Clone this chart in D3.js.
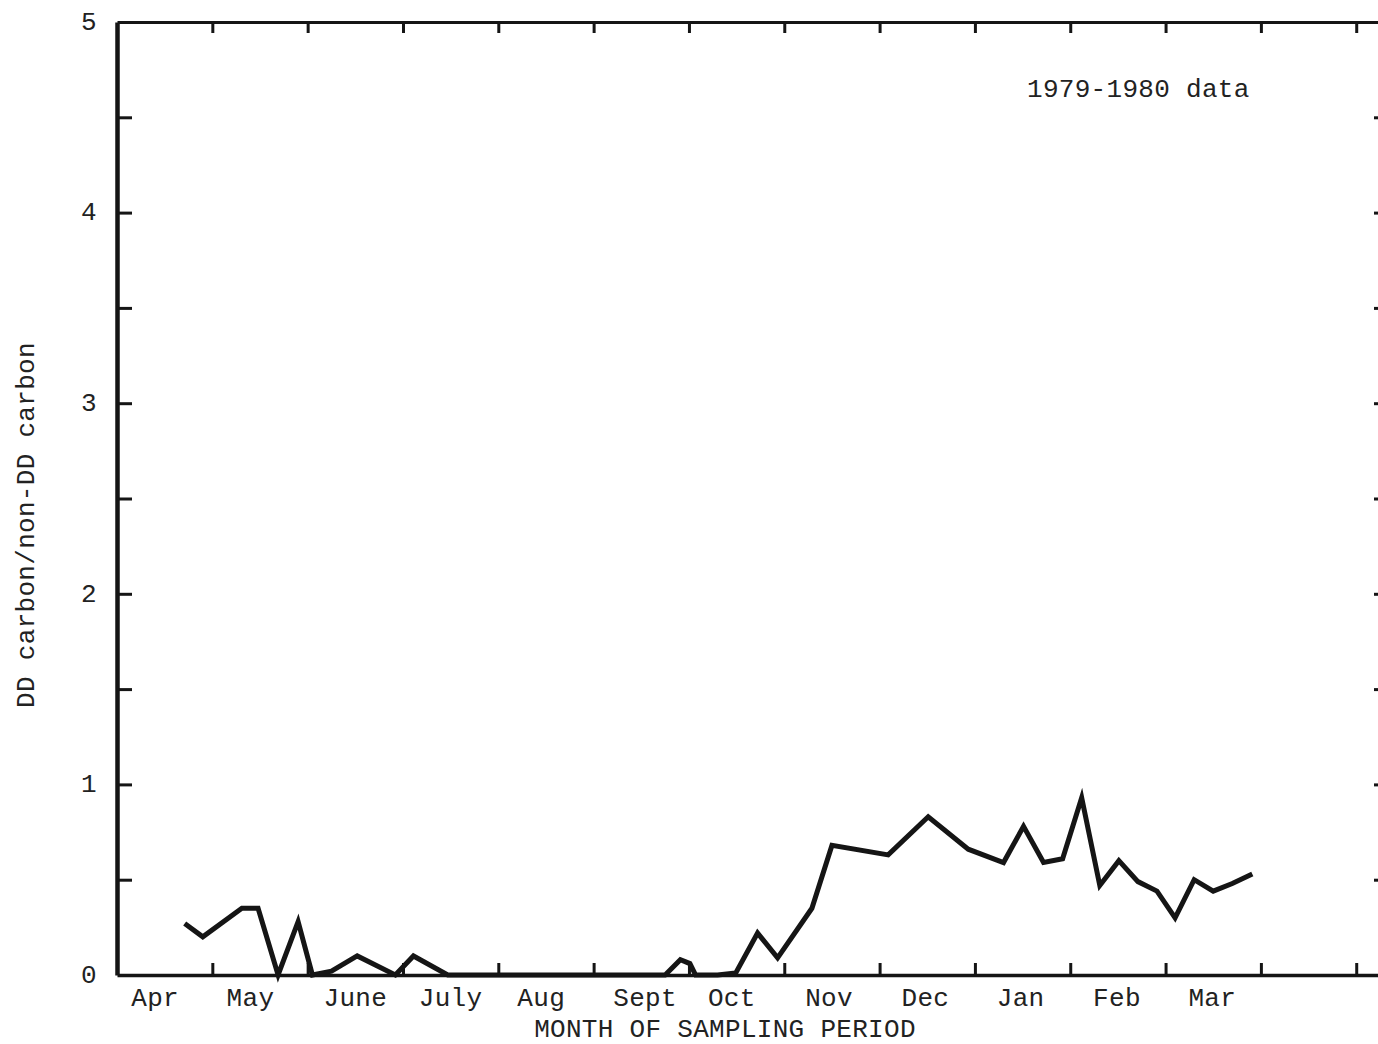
<!DOCTYPE html>
<html>
<head>
<meta charset="utf-8">
<script src="https://cdn.jsdelivr.net/npm/d3@7"></script>
<style>
  html, body { margin: 0; padding: 0; background: #fff; }
  svg { display: block; }
  text { font-family: "Liberation Mono", "DejaVu Sans Mono", monospace; fill: #222; letter-spacing: 0.3px; }
</style>
</head>
<body>
<svg id="chart" width="1378" height="1044"></svg>
<script>
// Sampling time, in months since the start of April 1979
const sampleMonth = [0.71, 0.90, 1.31, 1.48, 1.69, 1.90, 2.05, 2.25, 2.52, 2.92, 3.11, 3.47,
  4.00, 4.50, 5.00, 5.50, 5.75, 5.91, 6.01, 6.07, 6.30, 6.49, 6.72, 6.93, 7.29, 7.50,
  8.09, 8.51, 8.93, 9.30, 9.51, 9.72, 9.92, 10.12, 10.31, 10.51, 10.71, 10.91, 11.10,
  11.30, 11.50, 11.70, 11.91];
// DD carbon / non-DD carbon ratio at each sample
const ratio = [0.27, 0.20, 0.35, 0.35, 0.00, 0.28, 0.00, 0.02, 0.10, 0.00, 0.10, 0.00,
  0.00, 0.00, 0.00, 0.00, 0.00, 0.08, 0.06, 0.00, 0.00, 0.01, 0.22, 0.09, 0.35, 0.68,
  0.63, 0.83, 0.66, 0.59, 0.78, 0.59, 0.61, 0.93, 0.47, 0.60, 0.49, 0.44, 0.30,
  0.50, 0.44, 0.48, 0.53];

const monthNames = ["Apr", "May", "June", "July", "Aug", "Sept", "Oct", "Nov", "Dec", "Jan", "Feb", "Mar"];
const monthLabelAt = [0.40, 1.40, 2.50, 3.50, 4.45, 5.54, 6.45, 7.47, 8.48, 9.48, 10.49, 11.49];
const monthTicks = [1, 2, 3, 4, 5, 6, 7, 8, 9, 10, 11, 12, 13];
const yTicks = [0, 0.5, 1, 1.5, 2, 2.5, 3, 3.5, 4, 4.5, 5];
const yLabelled = [0, 1, 2, 3, 4, 5];

const svg = d3.select("#chart");
const ink = "#151515";
const fontSize = 26;

const plotL = 117, plotR = 1381, plotT = 22, plotB = 975;
const x = d3.scaleLinear().domain([0, 13.26]).range([plotL, plotR]);
const y = d3.scaleLinear().domain([0, 5]).range([plotB, plotT]);

// frame axes: ticks point into the plot on every side
const styleAxis = (g, w) => {
  g.select(".domain").attr("stroke", ink).attr("stroke-width", w);
  g.selectAll(".tick line").attr("stroke", ink).attr("stroke-width", 3);
  g.selectAll(".tick text").remove();
};

svg.append("g")
  .attr("transform", `translate(0,${plotB})`)
  .call(d3.axisBottom(x).tickValues(monthTicks).tickSizeInner(-12).tickSizeOuter(0))
  .call(g => styleAxis(g, 3.5));

svg.append("g")
  .attr("transform", `translate(0,${plotT})`)
  .call(d3.axisTop(x).tickValues(monthTicks).tickSizeInner(-11).tickSizeOuter(0))
  .call(g => styleAxis(g, 3));

svg.append("g")
  .attr("transform", `translate(${plotL},0)`)
  .call(d3.axisLeft(y).tickValues(yTicks.filter(v => v > 0 && v < 5)).tickSizeInner(-15).tickSizeOuter(0))
  .call(g => styleAxis(g, 4.5));

svg.append("g")
  .attr("transform", `translate(${plotR},0)`)
  .call(d3.axisRight(y).tickValues(yTicks.filter(v => v > 0 && v < 5)).tickSizeInner(-7).tickSizeOuter(0))
  .call(g => styleAxis(g, 3));

// y tick labels
svg.append("g").selectAll("text")
  .data(yLabelled)
  .join("text")
  .attr("x", 97)
  .attr("y", d => y(d))
  .attr("dy", "0.3em")
  .attr("text-anchor", "end")
  .attr("font-size", fontSize)
  .text(d => d);

// month labels
svg.append("g").selectAll("text")
  .data(monthNames)
  .join("text")
  .attr("x", (d, i) => x(monthLabelAt[i]))
  .attr("y", 1006)
  .attr("text-anchor", "middle")
  .attr("font-size", fontSize)
  .text(d => d);

svg.append("text")
  .attr("x", 725).attr("y", 1037)
  .attr("text-anchor", "middle")
  .attr("font-size", fontSize)
  .text("MONTH OF SAMPLING PERIOD");

svg.append("text")
  .attr("transform", "translate(34,525) rotate(-90)")
  .attr("text-anchor", "middle")
  .attr("font-size", fontSize)
  .text("DD carbon/non-DD carbon");

svg.append("text")
  .attr("x", 1027).attr("y", 97)
  .attr("font-size", fontSize)
  .text("1979-1980 data");

// the ratio series
const line = d3.line()
  .x(d => x(d[0]))
  .y(d => y(d[1]));

svg.append("path")
  .datum(sampleMonth.map((m, i) => [m, ratio[i]]))
  .attr("fill", "none")
  .attr("stroke", ink)
  .attr("stroke-width", 5)
  .attr("stroke-linejoin", "miter")
  .attr("d", line);
</script>
</body>
</html>
